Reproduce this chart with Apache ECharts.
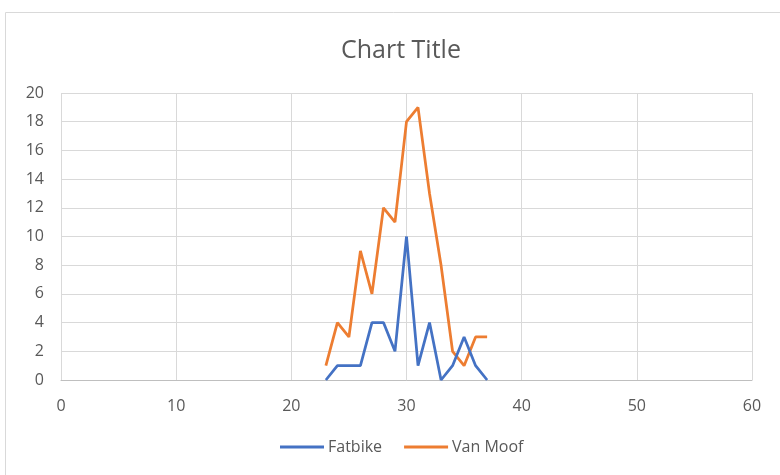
<!DOCTYPE html>
<html>
<head>
<meta charset="utf-8">
<script src="https://cdn.jsdelivr.net/npm/echarts@6/dist/echarts.min.js"></script>
<style>
html,body{margin:0;padding:0;background:#fff;}
#c{width:780px;height:475px;}
</style>
</head>
<body>
<div id="c"></div>
<script>
var xValues = [23, 24, 25, 26, 27, 28, 29, 30, 31, 32, 33, 34, 35, 36, 37];
var fatbike = [0, 1, 1, 1, 4, 4, 2, 10, 1, 4, 0, 1, 3, 1, 0];
var vanMoof = [1, 4, 3, 9, 6, 12, 11, 18, 19, 13, 8, 2, 1, 3, 3];
var seriesNames = ['Fatbike', 'Van Moof'];

function pairs(xs, ys) { return xs.map(function (x, i) { return [x, ys[i]]; }); }

var chart = echarts.init(document.getElementById('c'));
var font = '"Open Sans", "Noto Sans", sans-serif';
chart.setOption({
  animation: false,
  textStyle: { fontFamily: font },
  graphic: [{
    type: 'rect',
    shape: { x: 5.5, y: 12.5, width: 790, height: 480 },
    style: { fill: 'none', stroke: '#D9D9D9', lineWidth: 1 },
    silent: true
  }],
  title: {
    text: 'Chart Title',
    left: 336,
    top: 33,
    textStyle: { fontFamily: font, fontSize: 25, fontWeight: 'normal', color: '#595959' }
  },
  legend: {
    bottom: 15,
    left: 275,
    itemWidth: 44,
    itemHeight: 3,
    itemGap: 22,
    icon: 'rect',
    textStyle: { fontFamily: font, fontSize: 16, color: '#595959', padding: [0, 0, 0, -1] },
    data: seriesNames
  },
  grid: { left: 61, right: 28, top: 93, bottom: 95 },
  xAxis: {
    type: 'value',
    min: 0, max: 60, interval: 10,
    axisLine: { show: true, lineStyle: { color: '#BFBFBF', width: 1 } },
    axisTick: { show: false },
    axisLabel: { color: '#595959', fontSize: 16, margin: 18, fontFamily: font },
    splitLine: { show: true, lineStyle: { color: '#D9D9D9', width: 1 } }
  },
  yAxis: {
    type: 'value',
    min: 0, max: 20, interval: 2,
    axisLine: { show: false },
    axisTick: { show: false },
    axisLabel: { color: '#595959', fontSize: 16, margin: 17, fontFamily: font },
    splitLine: { show: true, lineStyle: { color: '#D9D9D9', width: 1 } }
  },
  series: [
    {
      name: seriesNames[0], type: 'line', data: pairs(xValues, fatbike),
      showSymbol: false, symbol: 'none',
      lineStyle: { color: '#4472C4', width: 2.75 }, itemStyle: { color: '#4472C4' }, z: 3
    },
    {
      name: seriesNames[1], type: 'line', data: pairs(xValues, vanMoof),
      showSymbol: false, symbol: 'none',
      lineStyle: { color: '#ED7D31', width: 2.75 }, itemStyle: { color: '#ED7D31' }, z: 2
    }
  ]
});
</script>
</body>
</html>
